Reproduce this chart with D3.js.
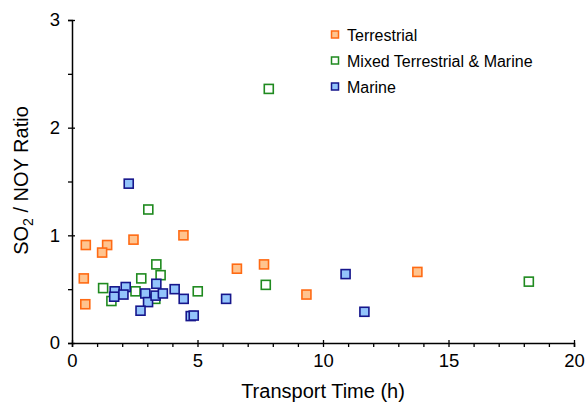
<!DOCTYPE html>
<html>
<head>
<meta charset="utf-8">
<script src="https://cdn.jsdelivr.net/npm/d3@7"></script>
<style>
  body { margin: 0; background: #fff; }
  text { font-family: "Liberation Sans", Arial, sans-serif; fill: #000; }
</style>
</head>
<body>
<div id="chart"></div>
<script>
// series values (transport time h, SO2/NOY ratio)
var terrestrialX = [0.55, 1.40, 1.20, 2.45, 4.44, 0.47, 0.53, 6.57, 7.65, 9.34, 13.76];
var terrestrialY = [0.91, 0.91, 0.84, 0.96, 1.00, 0.60, 0.36, 0.69, 0.73, 0.45, 0.66];

var mixedX = [7.84, 3.04, 3.36, 3.53, 2.76, 1.24, 2.53, 1.57, 5.01, 3.32, 7.72, 18.2];
var mixedY = [2.36, 1.24, 0.73, 0.63, 0.60, 0.51, 0.48, 0.39, 0.48, 0.41, 0.54, 0.57];

var marineX = [2.26, 1.70, 1.68, 2.14, 2.05, 2.92, 3.03, 2.73, 3.36, 3.33, 3.62, 4.09, 4.45, 4.73, 4.85, 6.14, 10.9, 11.65];
var marineY = [1.48, 0.48, 0.43, 0.52, 0.45, 0.46, 0.38, 0.30, 0.55, 0.44, 0.46, 0.50, 0.41, 0.25, 0.255, 0.41, 0.64, 0.29];

var xTicks = [0, 5, 10, 15, 20];
var yTicks = [0, 1, 2, 3];
var seriesNames = ["Terrestrial", "Mixed Terrestrial & Marine", "Marine"];

var width = 588, height = 405;
var margin = {top: 20, right: 14, bottom: 62, left: 72};

var svg = d3.select("#chart")
  .append("svg")
    .attr("width", width)
    .attr("height", height);

var x = d3.scaleLinear().domain([0, 20]).range([margin.left, width - margin.right]);
var y = d3.scaleLinear().domain([0, 3]).range([height - margin.bottom, margin.top]);

// axes
var xAxis = svg.append("g")
    .attr("transform", "translate(0," + y(0) + ")")
    .call(d3.axisBottom(x).tickValues(xTicks).tickSize(4).tickPadding(7).tickFormat(d3.format("d")));
xAxis.selectAll(".tick line").attr("y1", -3);
svg.append("g")
    .attr("transform", "translate(0," + y(0) + ")")
    .call(d3.axisBottom(x).tickValues(d3.range(1, 20).filter(function(d){ return d % 5 != 0; })).tickSize(4).tickFormat(""))
    .select(".domain").remove();

var yAxis = svg.append("g")
    .attr("transform", "translate(" + x(0) + ",0)")
    .call(d3.axisLeft(y).tickValues(yTicks).tickSize(4).tickPadding(8).tickFormat(d3.format("d")));
yAxis.selectAll(".tick line").attr("x1", 3);
svg.append("g")
    .attr("transform", "translate(" + x(0) + ",0)")
    .call(d3.axisLeft(y).tickValues([0.5, 1.5, 2.5]).tickSize(4).tickFormat(""))
    .select(".domain").remove();

svg.selectAll(".domain").attr("stroke", "#000").attr("stroke-width", 1.5);
svg.selectAll(".tick line").attr("stroke", "#000").attr("stroke-width", 1.3);
svg.selectAll(".tick text").style("font-size", "18.5px").style("font-family", "Liberation Sans, Arial, sans-serif");

// axis titles
svg.append("text")
    .attr("x", (x(0) + x(20)) / 2)
    .attr("y", 398)
    .attr("text-anchor", "middle")
    .style("font-size", "20px")
    .text("Transport Time (h)");

var yt = svg.append("text")
    .attr("transform", "translate(28," + (y(1.5) - 1) + ") rotate(-90)")
    .attr("text-anchor", "middle")
    .style("font-size", "20px");
yt.append("tspan").text("SO");
yt.append("tspan").attr("dy", 5).style("font-size", "14px").text("2");
yt.append("tspan").attr("dy", -5).text(" / NOY Ratio");

// points
var styles = [
  {fill: "#ffc48f", stroke: "#ff6a13", name: seriesNames[0]},
  {fill: "#ffffff", stroke: "#1f8a1f", name: seriesNames[1]},
  {fill: "#93c4fb", stroke: "#16168c", name: seriesNames[2]}
];
var series = [
  d3.zip(terrestrialX, terrestrialY),
  d3.zip(mixedX, mixedY),
  d3.zip(marineX, marineY)
];
var s = 9;
series.forEach(function(pts, i) {
  svg.append("g").selectAll("rect")
    .data(pts)
    .enter()
    .append("rect")
      .attr("x", function(d) { return x(d[0]) - s / 2; })
      .attr("y", function(d) { return y(d[1]) - s / 2; })
      .attr("width", s)
      .attr("height", s)
      .attr("fill", styles[i].fill)
      .attr("stroke", styles[i].stroke)
      .attr("stroke-width", 1.6);
});

// legend
var legend = svg.append("g").attr("transform", "translate(335,34.5)");
styles.forEach(function(st, i) {
  var g = legend.append("g").attr("transform", "translate(0," + (i * 26) + ")");
  g.append("rect")
    .attr("x", -3.5).attr("y", -3.5)
    .attr("width", 7).attr("height", 7)
    .attr("fill", st.fill)
    .attr("stroke", st.stroke)
    .attr("stroke-width", 1.5);
  g.append("text")
    .attr("x", 12)
    .attr("y", 6)
    .style("font-size", "16px")
    .text(st.name);
});
</script>
</body>
</html>
